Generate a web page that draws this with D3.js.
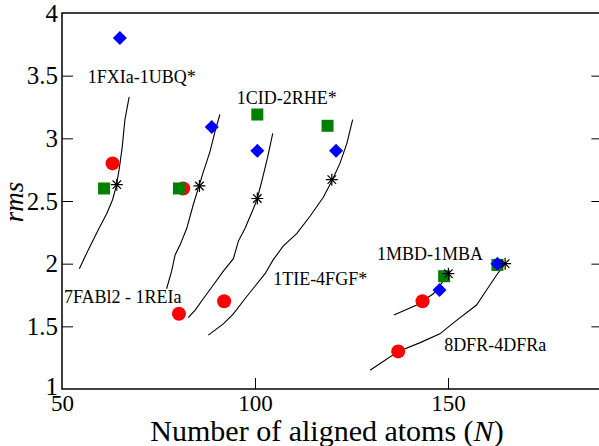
<!DOCTYPE html>
<html><head><meta charset="utf-8">
<script src="https://cdn.jsdelivr.net/npm/d3@7"></script>
<style>html,body{margin:0;padding:0;background:#fff}svg{display:block}</style>
</head><body>
<svg id="c" width="599" height="446"></svg>
<script>
// ---- data ----
const xTicks = [50, 100, 150];
const yTicks = [1, 1.5, 2, 2.5, 3, 3.5, 4];
const yTickLabels = ["1", "1.5", "2", "2.5", "3", "3.5", "4"];

const diamondN   = [65.0, 88.8, 100.6, 121.0, 147.8, 162.8];
const diamondRms = [3.80, 3.09, 2.90, 2.90, 1.79, 2.00];
const squareN    = [60.9, 80.3, 100.6, 118.8, 149.0, 162.8];
const squareRms  = [2.60, 2.60, 3.19, 3.10, 1.90, 1.99];
const circleN    = [63.1, 81.4, 80.3, 92.0, 143.4, 137.1];
const circleRms  = [2.80, 2.60, 1.60, 1.70, 1.70, 1.30];
const starN      = [64.2, 85.6, 100.6, 119.9, 150.1, 164.8];
const starRms    = [2.63, 2.62, 2.52, 2.67, 1.92, 2.00];

const curve1N   = [67.4, 66.3, 65.6, 64.8, 64.0, 63.1, 61.6, 59.4, 56.8, 54.5];
const curve1Rms = [3.33, 3.15, 2.93, 2.75, 2.61, 2.51, 2.40, 2.27, 2.11, 1.96];
const curve2N   = [90.9, 89.6, 88.3, 86.6, 85.6, 84.0, 82.3, 80.6, 79.3, 78.4, 77.1];
const curve2Rms = [3.19, 3.05, 2.89, 2.73, 2.63, 2.47, 2.28, 2.15, 2.07, 1.94, 1.80];
const curve3N   = [104.6, 103.2, 101.7, 100.6, 99.6, 97.4, 95.7, 94.4, 91.8, 89.2, 86.6, 84.5, 82.7];
const curve3Rms = [3.04, 2.84, 2.65, 2.52, 2.44, 2.28, 2.18, 2.04, 1.94, 1.83, 1.72, 1.63, 1.57];
const curve4N   = [125.3, 123.8, 122.0, 119.9, 117.7, 114.3, 110.8, 107.3, 104.7, 102.6, 100.0, 97.4, 94.4, 91.8, 87.9];
const curve4Rms = [3.15, 2.96, 2.80, 2.66, 2.53, 2.38, 2.24, 2.14, 2.03, 1.92, 1.82, 1.72, 1.60, 1.52, 1.43];
const curve5N   = [136.0, 141.9, 146.2, 149.0, 150.1];
const curve5Rms = [1.59, 1.67, 1.76, 1.87, 1.92];
const curve6N   = [129.8, 133.2, 137.1, 142.8, 147.9, 152.3, 157.4, 160.0, 162.6, 164.8];
const curve6Rms = [1.15, 1.22, 1.30, 1.37, 1.44, 1.55, 1.67, 1.79, 1.91, 2.00];

const labelText = ["1FXIa-1UBQ*", "1CID-2RHE*", "7FABl2 - 1REIa", "1TIE-4FGF*", "1MBD-1MBA", "8DFR-4DFRa"];
const labelN    = [56.7, 95.3, 50.5, 104.7, 131.6, 149.0];
const labelRms  = [3.44, 3.27, 1.69, 1.83, 2.03, 1.30];

// ---- chart ----
const svg = d3.select("#c");
const L = 62, R = 602.4, T = 13, B = 389;
const x = d3.scaleLinear().domain([50, 190]).range([L, R]);
const y = d3.scaleLinear().domain([1, 4]).range([B, T]);
const font = "'Liberation Serif','Times New Roman',serif";

// frame
svg.append("rect").attr("x", L).attr("y", T).attr("width", R - L).attr("height", B - T)
  .attr("fill", "none").attr("stroke", "#000").attr("stroke-width", 1.5);

// y axis ticks (left + right mirrored)
const yAxisL = d3.axisLeft(y).tickValues(yTicks).tickSize(-11).tickPadding(4)
  .tickFormat((d, i) => yTickLabels[i]);
const gy = svg.append("g").attr("transform", `translate(${L},0)`).call(yAxisL);
gy.select(".domain").remove();
gy.selectAll("text").attr("font-family", font).attr("font-size", 25).attr("fill", "#000");
gy.selectAll("line").attr("stroke-width", 1).filter(d => d === 1 || d === 4).remove();
gy.selectAll("text").filter(d => d === 1).attr("dy", "0.2em");

const gyR = svg.append("g").attr("transform", `translate(${R},0)`)
  .call(d3.axisRight(y).tickValues(yTicks.filter(d => d > 1 && d < 4)).tickSize(-11).tickFormat(""));
gyR.select(".domain").remove();

// x axis
const gx = svg.append("g").attr("transform", `translate(0,${B})`)
  .call(d3.axisBottom(x).tickValues(xTicks).tickSize(-11).tickPadding(6).tickFormat(d3.format("d")));
gx.select(".domain").remove();
gx.selectAll("text").attr("font-family", font).attr("font-size", 23).attr("fill", "#000");
gx.selectAll("line").filter(d => d === 50).remove();

// axis titles
const xt = svg.append("text").attr("x", 327).attr("y", 441).attr("text-anchor", "middle")
  .attr("font-family", font).attr("font-size", 30);
xt.append("tspan").text("Number of aligned atoms (");
xt.append("tspan").attr("font-style", "italic").text("N");
xt.append("tspan").text(")");

svg.append("text").attr("transform", "translate(23,202) rotate(-90)").attr("text-anchor", "middle")
  .attr("font-family", font).attr("font-style", "italic").attr("font-size", 27).text("rms");

// curves
const curves = [[curve1N, curve1Rms], [curve2N, curve2Rms], [curve3N, curve3Rms],
                [curve4N, curve4Rms], [curve5N, curve5Rms], [curve6N, curve6Rms]];
const line = d3.line().x(d => x(d[0])).y(d => y(d[1]));
svg.append("g").selectAll("path").data(curves).join("path")
  .attr("d", c => line(d3.zip(c[0], c[1])))
  .attr("fill", "none").attr("stroke", "#000").attr("stroke-width", 1.1);

// markers
const circles = d3.zip(circleN, circleRms);
svg.append("g").selectAll("circle").data(circles).join("circle")
  .attr("cx", d => x(d[0])).attr("cy", d => y(d[1])).attr("r", 7).attr("fill", "#ff0000");

const squares = d3.zip(squareN, squareRms);
const sq = d3.symbol().type(d3.symbolSquare).size(144);
svg.append("g").selectAll("path").data(squares).join("path")
  .attr("transform", d => `translate(${x(d[0])},${y(d[1])})`).attr("d", sq()).attr("fill", "#008000");

const diamonds = d3.zip(diamondN, diamondRms);
const dm = d3.symbol().type(d3.symbolSquare).size(98);
svg.append("g").selectAll("path").data(diamonds).join("path")
  .attr("transform", d => `translate(${x(d[0])},${y(d[1])}) rotate(45)`).attr("d", dm()).attr("fill", "#0000ff");

const asterisk = {
  draw(ctx, size) {
    const r = Math.sqrt(size) / 2;
    for (let k = 0; k < 4; k++) {
      const a = k * Math.PI / 4;
      ctx.moveTo(-r * Math.cos(a), -r * Math.sin(a));
      ctx.lineTo(r * Math.cos(a), r * Math.sin(a));
    }
  }
};
const stars = d3.zip(starN, starRms);
const st = d3.symbol().type(asterisk).size(144);
svg.append("g").selectAll("path").data(stars).join("path")
  .attr("transform", d => `translate(${x(d[0])},${y(d[1])})`).attr("d", st())
  .attr("fill", "none").attr("stroke", "#000").attr("stroke-width", 1.2);

// pair labels
svg.append("g").selectAll("text").data(d3.zip(labelText, labelN, labelRms)).join("text")
  .attr("x", d => x(d[1])).attr("y", d => y(d[2]))
  .attr("font-family", font).attr("font-size", 18).attr("fill", "#000")
  .text(d => d[0]);
</script>
</body></html>
